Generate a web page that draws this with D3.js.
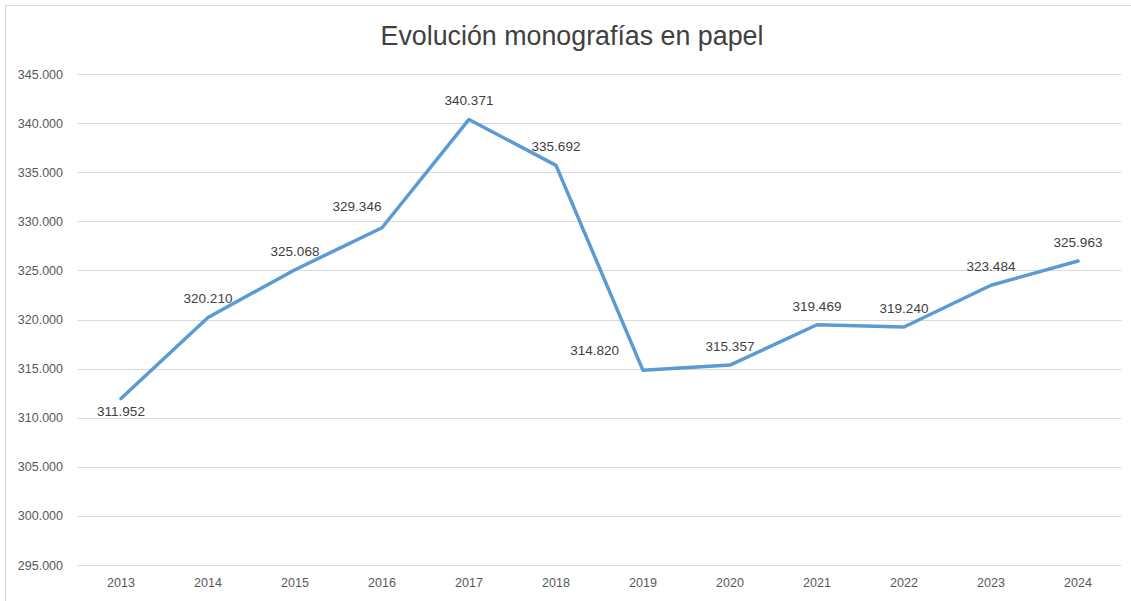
<html>
<head>
<meta charset="utf-8">
<script src="https://cdnjs.cloudflare.com/ajax/libs/d3/7.8.5/d3.min.js"></script>
<style>
  body { margin: 0; background: white; }
  text { font-family: "Liberation Sans", Arial, sans-serif; }
</style>
</head>
<body>
<div id="graph"></div>
<script>
    // data
    var years = ["2013","2014","2015","2016","2017","2018","2019","2020","2021","2022","2023","2024"]
    var values = [311952, 320210, 325068, 329346, 340371, 335692, 314820, 315357, 319469, 319240, 323484, 325963]
    var labelPlace = ["below","above","above","aboveLeft","above","above","left","above","above","above","above","above"]
    var yTicks = [295000, 300000, 305000, 310000, 315000, 320000, 325000, 330000, 335000, 340000, 345000]
    var title = "Evolución monografías en papel"

    var WIDTH = 1131, HEIGHT = 601
    var svg = d3.select("#graph").append("svg")
        .attr("width", WIDTH)
        .attr("height", HEIGHT)

    // chart frame (only left & top visible in the reference)
    svg.append("rect")
        .attr("x", 5.5).attr("y", 5.5)
        .attr("width", 1140).attr("height", 620)
        .style("fill", "white").style("stroke", "#d9d9d9")

    var X = d3.scaleBand().domain(years).range([77.5, 1121.5])
    var Y = d3.scaleLinear().domain([295000, 345000]).range([565, 74])
    var cx = (d) => X(d) + X.bandwidth() / 2

    var fmt = (v) => d3.format(",")(v).replace(/,/g, ".")

    // gridlines
    svg.selectAll(".grid")
      .data(yTicks)
      .enter().append("line")
        .attr("x1", 77.5).attr("x2", 1121.5)
        .attr("y1", (d) => Math.round(Y(d)) + 0.5)
        .attr("y2", (d) => Math.round(Y(d)) + 0.5)
        .style("stroke", "#d9d9d9").style("stroke-width", 1)

    // y axis labels
    svg.selectAll(".ylab")
      .data(yTicks)
      .enter().append("text")
        .attr("x", 63)
        .attr("y", (d) => Y(d) + 4.5)
        .attr("text-anchor", "end")
        .style("font-size", "12.5px")
        .style("fill", "#595959")
        .text(fmt)

    // x axis labels
    svg.selectAll(".xlab")
      .data(years)
      .enter().append("text")
        .attr("x", cx)
        .attr("y", 587)
        .attr("text-anchor", "middle")
        .style("font-size", "12.5px")
        .style("fill", "#595959")
        .text((d) => d)

    // the line
    var pts = years.map((y, i) => [cx(y), Y(values[i])])
    svg.append("path")
        .attr("d", d3.line()(pts))
        .style("fill", "none")
        .style("stroke", "#5b9bd5")
        .style("stroke-width", 3.5)
        .style("stroke-linejoin", "round")
        .style("stroke-linecap", "round")

    // data labels
    var offs = {
        above: {dx: 0, dy: -14, a: "middle"},
        below: {dx: 0, dy: 17, a: "middle"},
        aboveLeft: {dx: -25, dy: -17, a: "middle"},
        left: {dx: -24, dy: -15, a: "end"}
    }
    svg.selectAll(".dlab")
      .data(values)
      .enter().append("text")
        .attr("x", (d, i) => pts[i][0] + offs[labelPlace[i]].dx)
        .attr("y", (d, i) => pts[i][1] + offs[labelPlace[i]].dy)
        .attr("text-anchor", (d, i) => offs[labelPlace[i]].a)
        .style("font-size", "13.5px")
        .style("fill", "#404040")
        .text(fmt)

    // title
    var t = svg.append("text")
        .attr("x", 572)
        .attr("y", 45)
        .attr("text-anchor", "middle")
        .style("font-size", "27px")
        .style("fill", "#404040")
        .text(title)
    var w = t.node().getComputedTextLength()
    t.style("font-size", (27 * 383 / w) + "px")
</script>
</body>
</html>
